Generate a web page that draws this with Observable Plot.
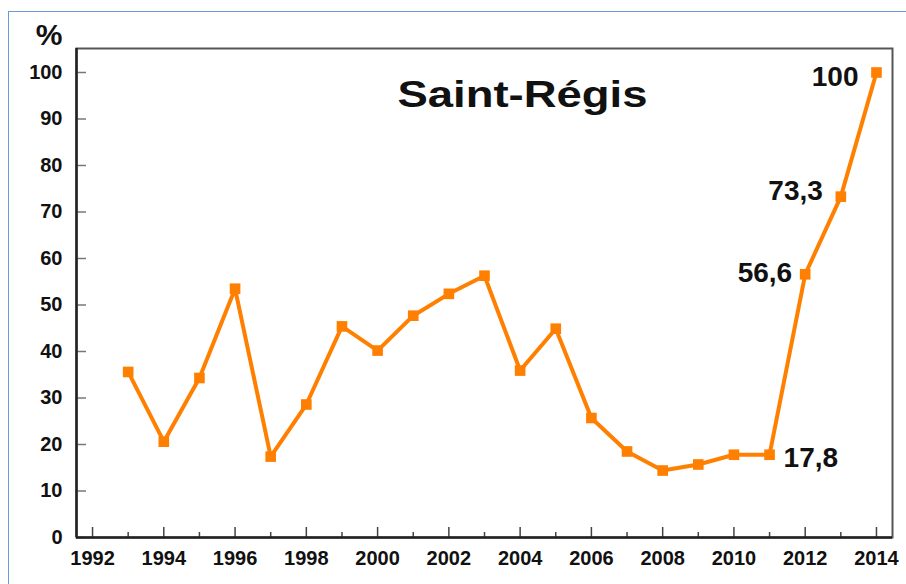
<!DOCTYPE html>
<html><head><meta charset="utf-8">
<script src="https://cdn.jsdelivr.net/npm/d3@7"></script>
<script src="https://cdn.jsdelivr.net/npm/@observablehq/plot@0.6"></script>
<style>
html,body{margin:0;padding:0;background:#fff;overflow:hidden;}
#wrap{position:relative;width:906px;height:584px;overflow:hidden;}
#border{position:absolute;left:8px;top:11px;width:1000px;height:1000px;border-left:1.5px solid #6a9ad8;border-top:1.5px solid #6a9ad8;}
#chart{position:absolute;left:0;top:0;}
</style></head><body>
<div id="wrap"><div id="border"></div><div id="chart"></div></div>
<script>
const title = "Saint-Régis";
const yUnit = "%";
const years = [1993, 1994, 1995, 1996, 1997, 1998, 1999, 2000, 2001, 2002, 2003, 2004, 2005, 2006, 2007, 2008, 2009, 2010, 2011, 2012, 2013, 2014];
const values = [35.6, 20.6, 34.3, 53.5, 17.4, 28.6, 45.4, 40.2, 47.7, 52.4, 56.3, 35.9, 44.9, 25.7, 18.5, 14.4, 15.7, 17.8, 17.8, 56.6, 73.3, 100];
const labelYears = [2011, 2012, 2013, 2014];
const labelTexts = ["17,8", "56,6", "73,3", "100"];
const xTicksMajor = [1992, 1994, 1996, 1998, 2000, 2002, 2004, 2006, 2008, 2010, 2012, 2014];
const xTicksMinor = [1993, 1995, 1997, 1999, 2001, 2003, 2005, 2007, 2009, 2011, 2013];
const yTicks = [0, 10, 20, 30, 40, 50, 60, 70, 80, 90, 100];

// label placement (style only): [dx, dy, anchor]
const labelStyle = {
  2011: [14, 3, "start"],
  2012: [-13, -1, "end"],
  2013: [-18, -6, "end"],
  2014: [-18, 5, "end"]
};

const data = years.map((year, i) => ({year, value: values[i]}));
const labeled = labelYears.map((y, i) => ({year: y, value: values[years.indexOf(y)], text: labelTexts[i]}));

const X0 = 1991.55, X1 = 2014.45;
const ORANGE = "#ff8000";

const labelMarks = labeled.map(d => {
  const [dx, dy, anchor] = labelStyle[d.year];
  return Plot.text([d], {x: "year", y: "value", text: "text", dx, dy, textAnchor: anchor,
    fontSize: 28, fontWeight: "bold", fill: "#111"});
});

const plot = Plot.plot({
  width: 906, height: 584,
  marginLeft: 76, marginRight: 14, marginTop: 48, marginBottom: 47,
  x: {domain: [X0, X1]},
  y: {domain: [0, 105.16]},
  style: {fontFamily: "'Liberation Sans', Arial, sans-serif", color: "#111", background: "transparent", overflow: "visible"},
  marks: [
    Plot.frame({stroke: "#555", strokeWidth: 2}),
    Plot.axisX(xTicksMajor, {tickSize: -10, text: null, label: null, stroke: "#444", strokeWidth: 1.5}),
    Plot.axisX(xTicksMinor, {tickSize: -5, text: null, label: null, stroke: "#444", strokeWidth: 1.5}),
    Plot.axisX(xTicksMajor, {tickSize: 0, tickPadding: 13, tickFormat: "d", label: null, fontSize: 20, fontWeight: "bold", fill: "#111"}),
    Plot.axisY(yTicks, {tickSize: -10, text: null, label: null, stroke: "#777", strokeWidth: 1.5}),
    Plot.axisY(yTicks, {tickSize: 0, tickPadding: 14, label: null, fontSize: 20, fontWeight: "bold", fill: "#111"}),
    Plot.ruleY([0], {stroke: "#222", strokeWidth: 2.5}),
    Plot.ruleX([X0], {stroke: "#222", strokeWidth: 2.5}),
    Plot.line(data, {x: "year", y: "value", stroke: ORANGE, strokeWidth: 4}),
    Plot.dot(data, {x: "year", y: "value", symbol: "square", r: 6, fill: ORANGE, stroke: null}),
    ...labelMarks,
    Plot.text([title], {frameAnchor: "top", lineAnchor: "middle", dx: 38, dy: 47, fontSize: 37, fontWeight: "bold", fill: "#111"}),
    Plot.text([yUnit], {frameAnchor: "top-left", lineAnchor: "middle", textAnchor: "end", dx: -14, dy: -13, fontSize: 30, fontWeight: "bold", fill: "#111"})
  ]
});

document.getElementById("chart").appendChild(plot);
plot.querySelectorAll("text").forEach(t => {
  if (t.textContent === title) {
    t.setAttribute("textLength", "250");
    t.setAttribute("lengthAdjust", "spacingAndGlyphs");
  }
});
</script>
</body></html>
